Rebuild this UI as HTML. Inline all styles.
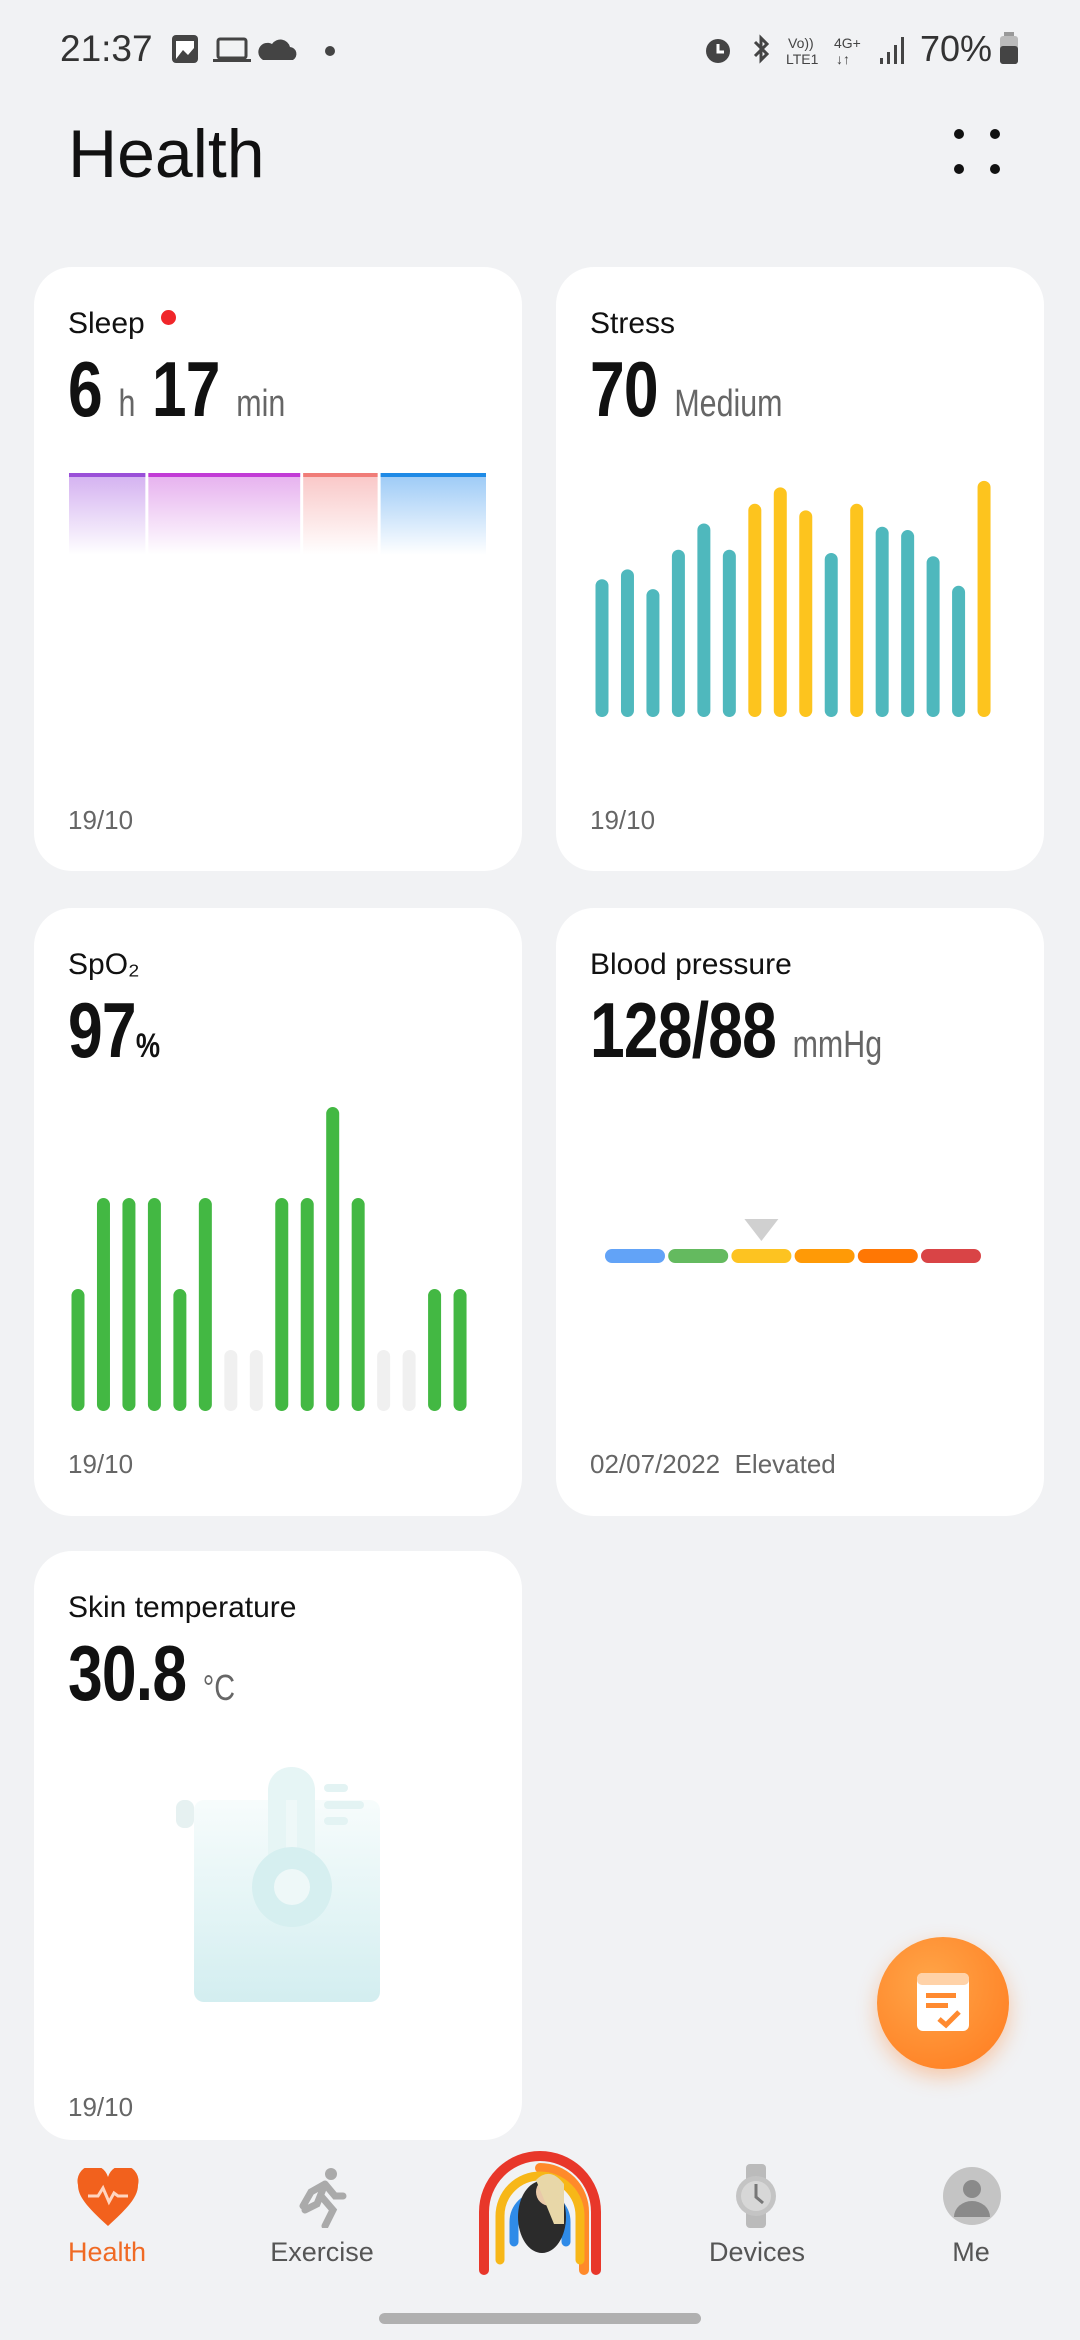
<!DOCTYPE html>
<html><head><meta charset="utf-8">
<style>
*{margin:0;padding:0;box-sizing:border-box}
body{width:1080px;height:2340px;background:#f1f2f4;font-family:"Liberation Sans",sans-serif;position:relative;overflow:hidden;color:#111}
.abs{position:absolute}
.card{position:absolute;background:#fff;border-radius:38px}
.ttl{position:absolute;left:34px;top:40px;font-size:30px;color:#111;white-space:nowrap}
.big{position:absolute;left:34px;top:84px;font-family:"Liberation Sans",sans-serif;font-weight:700;font-size:78px;line-height:76px;white-space:nowrap;letter-spacing:-1px;transform:scaleX(.8);transform-origin:left center}
.unit{font-family:"Liberation Sans",sans-serif;font-weight:400;font-size:38px;color:#666;letter-spacing:0}
.date{position:absolute;left:34px;font-size:26px;color:#666;white-space:nowrap}
.nav-label{position:absolute;top:2237px;font-size:27px;color:#555;transform:translateX(-50%);white-space:nowrap}
</style></head>
<body>
<!-- status bar -->
<div class="abs" style="left:60px;top:28px;font-size:37px;color:#333;">21:37</div>
<svg class="abs" style="left:170px;top:32px" width="170" height="36">
<rect x="2" y="3" width="26" height="28" rx="4" fill="#444"/><rect x="6" y="9" width="18" height="18" fill="#fff"/><path d="M6 27 L13 18 L18 23 L24 16 L24 27Z" fill="#444"/>
<rect x="48" y="7" width="28" height="19" rx="2" fill="none" stroke="#444" stroke-width="3"/><rect x="43" y="27" width="38" height="3" fill="#444"/>
<path d="M93 28 h30 a7 7 0 0 0 -3 -13 a10 10 0 0 0 -18 -3 a8 8 0 0 0 -9 16Z" fill="#444"/>
<circle cx="160" cy="19" r="5" fill="#444"/></svg>
<svg class="abs" style="left:700px;top:32px" width="220" height="36">
<circle cx="18" cy="19" r="12" fill="#444"/><path d="M18 12v8h6" stroke="#fff" stroke-width="3" fill="none"/>
<path d="M55 10l12 12-6 6V6l6 6-12 12" stroke="#444" stroke-width="3" fill="none"/>
<text x="88" y="16" font-size="14" fill="#444" font-family="Liberation Sans">Vo))</text><text x="86" y="32" font-size="14" fill="#444" font-family="Liberation Sans">LTE1</text>
<text x="134" y="16" font-size="14" fill="#444" font-family="Liberation Sans">4G+</text><text x="136" y="32" font-size="14" fill="#444" font-family="Liberation Sans">↓↑</text>
<rect x="180" y="26" width="3" height="6" fill="#444"/><rect x="187" y="20" width="3" height="12" fill="#444"/><rect x="194" y="13" width="3" height="19" fill="#444"/><rect x="201" y="5" width="3" height="27" fill="#444"/></svg>
<div class="abs" style="left:920px;top:28px;font-size:36px;color:#333;">70%</div>
<svg class="abs" style="left:998px;top:32px" width="26" height="36"><rect x="6" y="0" width="10" height="4" fill="#999"/><rect x="2" y="4" width="18" height="28" rx="3" fill="#bbb"/><rect x="2" y="14" width="18" height="18" rx="3" fill="#444"/></svg>

<div class="abs" style="left:68px;top:114px;font-size:68px;line-height:80px;color:#111;">Health</div>
<svg class="abs" style="left:945px;top:120px" width="64" height="64"><circle cx="14" cy="14" r="5" fill="#111"/><circle cx="50" cy="14" r="5" fill="#111"/><circle cx="14" cy="49" r="5" fill="#111"/><circle cx="50" cy="49" r="5" fill="#111"/></svg>

<!-- Sleep card -->
<div class="card" style="left:34px;top:267px;width:488px;height:604px">
 <div class="ttl">Sleep <span style="display:inline-block;width:15px;height:15px;border-radius:50%;background:#f0262a;vertical-align:8px;margin-left:8px"></span></div>
 <div class="big">6 <span class="unit">h</span> 17 <span class="unit">min</span></div>
 <div class="date" style="top:538px">19/10</div>
</div>
<!-- Stress card -->
<div class="card" style="left:556px;top:267px;width:488px;height:604px">
 <div class="ttl">Stress</div>
 <div class="big">70 <span class="unit">Medium</span></div>
 <div class="date" style="top:538px">19/10</div>
</div>
<!-- SpO2 card -->
<div class="card" style="left:34px;top:908px;width:488px;height:608px">
 <div class="ttl">SpO₂</div>
 <div class="big">97<span style="font-size:34px">%</span></div>
 <div class="date" style="top:541px">19/10</div>
</div>
<!-- BP card -->
<div class="card" style="left:556px;top:908px;width:488px;height:608px">
 <div class="ttl">Blood pressure</div>
 <div class="big">128/88 <span class="unit">mmHg</span></div>
 <div class="date" style="top:541px">02/07/2022&nbsp; Elevated</div>
</div>
<!-- Skin temperature card -->
<div class="card" style="left:34px;top:1551px;width:488px;height:589px">
 <div class="ttl">Skin temperature</div>
 <div class="big">30.8 <span class="unit" style="font-size:36px">°C</span></div>
 <div class="date" style="top:541px">19/10</div>
</div>

<svg id="charts" class="abs" style="left:0;top:0" width="1080" height="2340">
<defs>
<linearGradient id="gP" x1="0" y1="0" x2="0" y2="1"><stop offset="0" stop-color="#b57ae6" stop-opacity=".6"/><stop offset="1" stop-color="#b57ae6" stop-opacity="0"/></linearGradient>
<linearGradient id="gM" x1="0" y1="0" x2="0" y2="1"><stop offset="0" stop-color="#d57ae3" stop-opacity=".6"/><stop offset="1" stop-color="#d57ae3" stop-opacity="0"/></linearGradient>
<linearGradient id="gS" x1="0" y1="0" x2="0" y2="1"><stop offset="0" stop-color="#f5a0a0" stop-opacity=".6"/><stop offset="1" stop-color="#f5a0a0" stop-opacity="0"/></linearGradient>
<linearGradient id="gB" x1="0" y1="0" x2="0" y2="1"><stop offset="0" stop-color="#6fb2f2" stop-opacity=".7"/><stop offset="1" stop-color="#6fb2f2" stop-opacity="0"/></linearGradient>
<linearGradient id="gT" x1="0" y1="0" x2="0" y2="1"><stop offset="0" stop-color="#f7fcfc"/><stop offset="1" stop-color="#d3eef0"/></linearGradient>
</defs>
<!-- thermometer illustration -->
<g>
<rect x="176" y="1800" width="18" height="28" rx="8" fill="#e6f1f1"/>
<rect x="194" y="1800" width="186" height="202" rx="10" fill="url(#gT)"/>
<rect x="268" y="1767" width="47" height="110" rx="23" fill="#e6f5f5"/>
<rect x="286" y="1800" width="11" height="75" fill="#eef8f8"/>
<circle cx="292" cy="1887" r="40" fill="#d6eff0"/><circle cx="292" cy="1887" r="18" fill="#eef8f8"/>
<rect x="324" y="1784" width="24" height="8" rx="4" fill="#e3f3f3"/><rect x="324" y="1801" width="40" height="8" rx="4" fill="#e3f3f3"/><rect x="324" y="1817" width="24" height="8" rx="4" fill="#e3f3f3"/>
</g>
</svg>

<!-- FAB -->
<div class="abs" style="left:877px;top:1937px;width:132px;height:132px;border-radius:50%;background:radial-gradient(circle at 40% 35%,#ffa548,#ff7a1e);box-shadow:0 8px 20px rgba(255,120,30,.35)">
<svg width="132" height="132"><rect x="40" y="36" width="52" height="58" rx="6" fill="#fff"/><rect x="40" y="36" width="52" height="12" rx="5" fill="#ffd2a8"/><rect x="49" y="56" width="30" height="5" fill="#ff8a30"/><rect x="49" y="66" width="22" height="5" fill="#ff8a30"/><path d="M62 82l7 6 13-13" stroke="#ff8a30" stroke-width="5" fill="none"/></svg></div>

<!-- bottom nav -->
<div class="abs" style="left:0;top:2140px;width:1080px;height:157px;background:#f1f2f4"></div>
<svg class="abs" style="left:76px;top:2168px" width="64" height="60"><path d="M32 58 C10 38 2 28 2 17 A15 15 0 0 1 32 9 A15 15 0 0 1 62 17 C62 28 54 38 32 58Z" fill="#f2611d"/><path d="M12 28h10l5-8 6 14 5-9 4 3h10" stroke="#ffd5c0" stroke-width="3" fill="none"/></svg>
<svg class="abs" style="left:295px;top:2166px" width="56" height="62"><circle cx="36" cy="8" r="6" fill="#aaa"/><path d="M30 18 L22 38 L10 44 M26 30 L38 44 L30 60 M30 18 L40 30 L48 30 M30 18 L16 26 L8 40" stroke="#aaa" stroke-width="7" fill="none" stroke-linecap="round"/></svg>
<svg class="abs" style="left:462px;top:2142px" width="156" height="135">
<path d="M22 128 V70 A56 56 0 0 1 134 70 V128" stroke="#e8372a" stroke-width="10" fill="none" stroke-linecap="round"/>
<path d="M122 128 V70 A44 44 0 0 0 78 26" stroke="#ff8a2a" stroke-width="10" fill="none" stroke-linecap="round"/>
<path d="M38 118 V74 A40 40 0 0 1 118 74 V118" stroke="#f7b718" stroke-width="9" fill="none" stroke-linecap="round"/>
<path d="M52 100 V80 A26 26 0 0 1 104 80 V100" stroke="#2f8be8" stroke-width="9" fill="none" stroke-linecap="round"/>
<ellipse cx="80" cy="75" rx="24" ry="36" fill="#2b2b2b"/><circle cx="88" cy="50" r="14" fill="#e9c9a9"/><path d="M74 38 q14 -14 28 4 v40 h-10 z" fill="#e8d7a8"/></svg>
<svg class="abs" style="left:734px;top:2164px" width="46" height="64"><rect x="12" y="0" width="20" height="64" rx="4" fill="#bbb"/><circle cx="22" cy="32" r="20" fill="#c4c4c4"/><circle cx="22" cy="32" r="15" fill="#d7d7d7"/><path d="M22 20v13l7 6" stroke="#777" stroke-width="3" fill="none"/></svg>
<svg class="abs" style="left:943px;top:2167px" width="58" height="58"><circle cx="29" cy="29" r="29" fill="#c4c4c4"/><circle cx="29" cy="22" r="9" fill="#8a8a8a"/><path d="M11 50 a18 16 0 0 1 36 0z" fill="#8a8a8a"/></svg>
<div class="nav-label" style="left:107px;color:#f06a24">Health</div>
<div class="nav-label" style="left:322px">Exercise</div>
<div class="nav-label" style="left:757px">Devices</div>
<div class="nav-label" style="left:971px">Me</div>
<div class="abs" style="left:379px;top:2313px;width:322px;height:11px;border-radius:6px;background:#b0b0b0"></div>

<script>
// ---- Sleep stages (minutes per stage, in order) ----
const sleepStages = ["deep-a","light","rem","awake"];
const sleepMinutes = [82, 160, 80, 112];
const sleepColors = ["#9a4fd8","#c23bd6","#f07c78","#1e8ae6"];
const sleepFills = ["url(#gP)","url(#gM)","url(#gS)","url(#gB)"];
// ---- Stress levels by hour ----
const stressHours = ["h1","h2","h3","h4","h5","h6","h7","h8","h9","h10","h11","h12","h13","h14","h15","h16"];
const stressValues = [42,45,39,51,59,51,65,70,63,50,65,58,57,49,40,72];
const stressThreshold = 60;
// ---- SpO2 by period (null = no data) ----
const spo2Periods = ["p1","p2","p3","p4","p5","p6","p7","p8","p9","p10","p11","p12","p13","p14","p15","p16"];
const spo2Values = [96,97,97,97,96,97,null,null,97,97,98,97,null,null,96,96];
// ---- Blood pressure category scale ----
const bpCategories = ["Low","Normal","Elevated","Stage1","Stage2","Crisis"];
const bpCurrent = "Elevated";

const svg = document.getElementById('charts');
const NS = "http://www.w3.org/2000/svg";
function mk(tag, attrs){const e=document.createElementNS(NS,tag);for(const k in attrs)e.setAttribute(k,attrs[k]);svg.appendChild(e);return e;}

// Sleep axis
const sleepX0=69, sleepX1=489, sleepTop=473, sleepBot=555;
const sleepTotal = sleepMinutes.reduce((a,b)=>a+b,0);
const sx = m => sleepX0 + (sleepX1-sleepX0)*m/sleepTotal;
let acc=0;
sleepMinutes.forEach((m,i)=>{
  const x=sx(acc), w=sx(acc+m)-x-3; acc+=m;
  const f=mk('rect',{x:x,y:sleepTop,width:w,height:sleepBot-sleepTop,fill:sleepFills[i]});
  
  
  const l=mk('rect',{x:x,y:sleepTop,width:w,height:4,fill:sleepColors[i]});
  
  
});

// Stress axis
const stX0=602, stStep=25.47, stBase=717, stK=3.28;
const stressX = i => stX0 + i*stStep;
const stressH = v => v*stK;
stressValues.forEach((v,i)=>{
  const h=stressH(v);
  const r=mk('rect',{x:stressX(i)-6.5,y:stBase-h,width:13,height:h,rx:6.5,fill:v>=stressThreshold?'#fdc41e':'#4fb8bd'});
  
  
});

// SpO2 axis
const spX0=78, spStep=25.47, spBase=1411, spK=91, spMin=94.66, spEmptyH=61;
const spoX = i => spX0 + i*spStep;
const spoH = v => (v-spMin)*spK;
spo2Values.forEach((v,i)=>{
  const h = v===null ? spEmptyH : spoH(v);
  const r=mk('rect',{x:spoX(i)-6.5,y:spBase-h,width:13,height:h,rx:6.5,fill:v===null?'#f0f0f0':'#43b843'});
  
  
});

// BP scale
const bpColors=["#62a3f7","#64ba5f","#fdc321","#ff9a06","#ff7704","#d94446"];
const bpX0=605, bpPitch=63.2, bpW=60, bpY=1249;
const bpX = i => bpX0 + i*bpPitch;
bpCategories.forEach((c,i)=>{
  const r=mk('rect',{x:bpX(i),y:bpY,width:bpW,height:14,rx:7,fill:bpColors[i]});
  
  
});
const bi=bpCategories.indexOf(bpCurrent), cx=bpX(bi)+bpW/2;
const tri=mk('path',{d:`M${cx-17} 1219 H${cx+17} L${cx} 1241 Z`,fill:'#d0d0d0','stroke-linejoin':'round'});


</script>
</body></html>
